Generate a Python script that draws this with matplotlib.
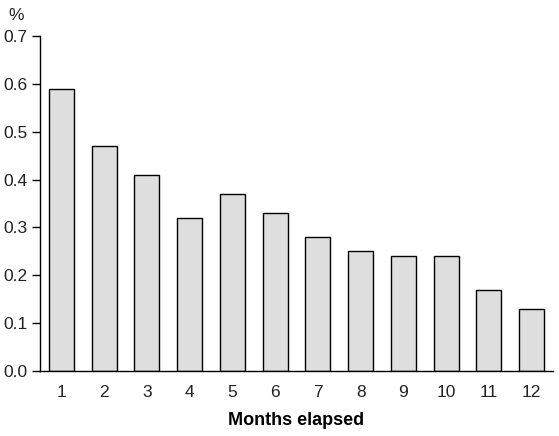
import matplotlib
matplotlib.use('Agg')
import matplotlib.pyplot as plt

plt.rcParams['font.family'] = ['Liberation Sans', 'DejaVu Sans']

months = [1, 2, 3, 4, 5, 6, 7, 8, 9, 10, 11, 12]
values = [0.59, 0.47, 0.41, 0.32, 0.37, 0.33, 0.28, 0.25, 0.24, 0.24, 0.17, 0.13]
yticks = [0.0, 0.1, 0.2, 0.3, 0.4, 0.5, 0.6, 0.7]

fig = plt.figure(figsize=(5.59, 4.36), dpi=100)
ax = fig.add_axes([40 / 559, 65 / 436, 513 / 559, 335 / 436])

ax.bar(months, values, width=0.58, color='#dedede', edgecolor='black', linewidth=1)

ax.set_xlim(0.5, 12.5)
ax.set_ylim(0, 0.7)
ax.set_xticks(months)
ax.set_yticks(yticks)
ax.set_yticklabels([f"{t:.1f}" for t in yticks])
ax.tick_params(axis='x', length=0, labelsize=12.5, pad=10)
ax.tick_params(axis='y', length=6, width=1, labelsize=12.5, pad=3)
for lab in ax.get_xticklabels() + ax.get_yticklabels():
    lab.set_color('#222222')

ax.spines['top'].set_visible(False)
ax.spines['right'].set_visible(False)
ax.spines['left'].set_linewidth(1)
ax.spines['bottom'].set_linewidth(1)

ax.set_xlabel('Months elapsed', fontsize=13, fontweight='bold', labelpad=9)
fig.text(16 / 559, 1 - 16 / 436, '%', fontsize=12.5, ha='center', va='center', color='#222222')

fig.savefig('out.png', dpi=100)
